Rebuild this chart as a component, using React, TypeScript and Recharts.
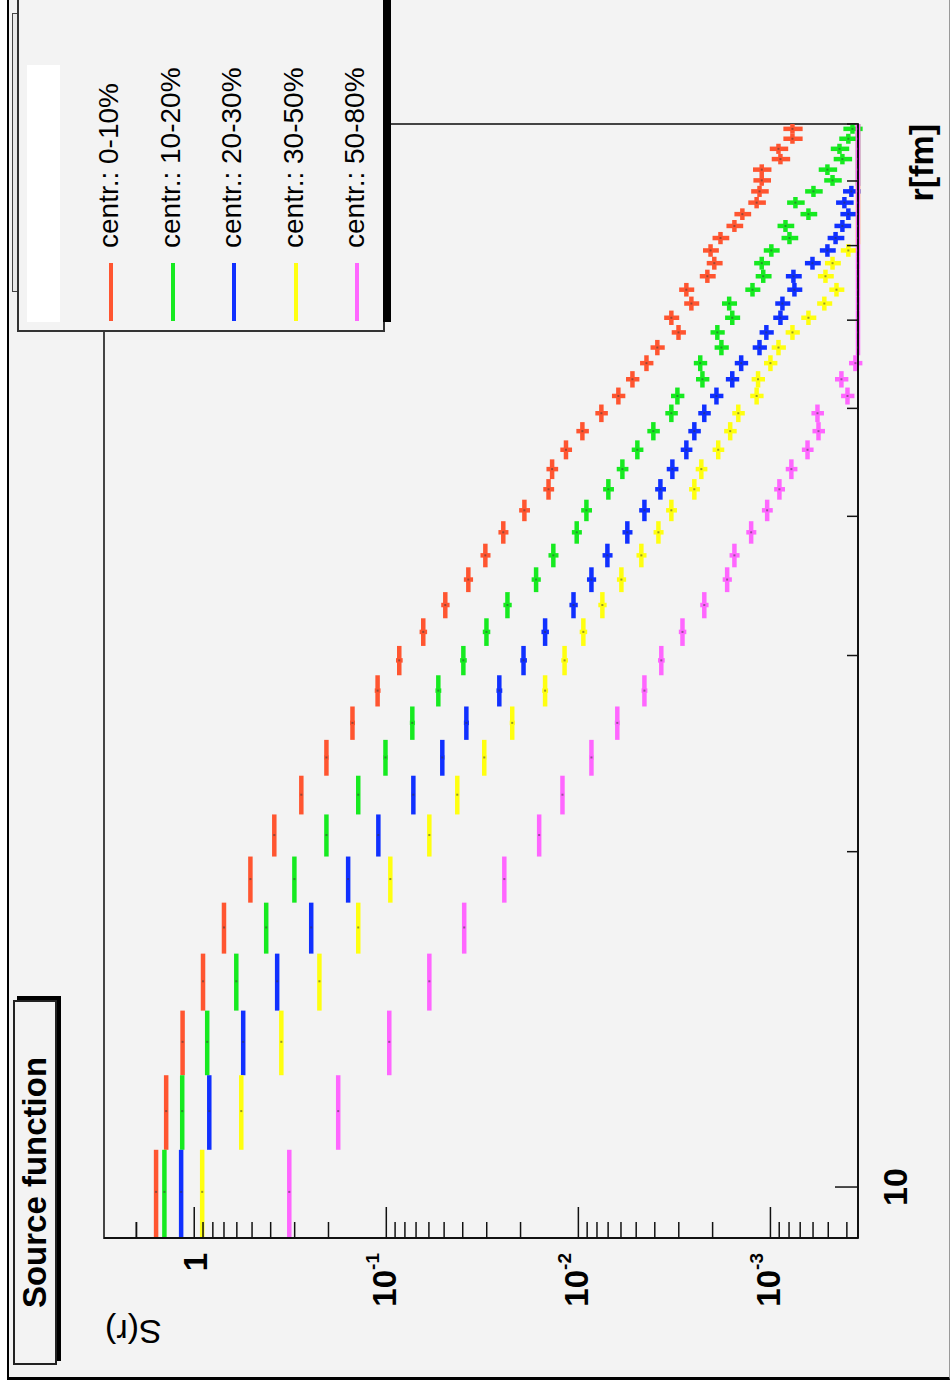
import React from "react";
import { ScatterChart, Scatter, XAxis, YAxis, ErrorBar, ReferenceArea, Legend } from "recharts";

// canvas is laid out landscape and turned a quarter turn for display
const W = 1391;
const H = 951;
const FONT = '"Liberation Sans", Arial, Helvetica, sans-serif';

// frame geometry (landscape coordinates)
const AXIS_X = 153;
const AXIS_Y = 858;

const R_MIN = 9;
const R_MAX = 90;
const S_MIN = 0.00035;
const S_MAX = 2.95;

// r bin centres [fm], bins are 1.8 fm wide
const rCenters = [
  9.9, 11.7, 13.5, 15.3, 17.1, 18.9, 20.7, 22.5, 24.3, 26.1, 27.9, 29.7, 31.5, 33.3, 35.1,
  36.9, 38.7, 40.5, 42.3, 44.1, 45.9, 47.7, 49.5, 51.3, 53.1, 54.9, 56.7, 58.5, 60.3, 62.1,
  63.9, 65.7, 67.5, 69.3, 71.1, 72.9, 74.7, 76.5, 78.3, 80.1, 81.9, 83.7, 85.5, 87.3, 89.1,
];
const rHalfBin = 0.9;

// relative statistical error of S(r) per bin
const relErr = [
  0.01, 0.01, 0.01, 0.01, 0.01, 0.015, 0.015, 0.02, 0.025, 0.03, 0.035, 0.04, 0.045, 0.05, 0.055,
  0.06, 0.06, 0.065, 0.065, 0.07, 0.07, 0.075, 0.075, 0.08, 0.08, 0.08, 0.085, 0.085, 0.09, 0.09,
  0.09, 0.095, 0.095, 0.095, 0.1, 0.1, 0.1, 0.105, 0.105, 0.105, 0.11, 0.11, 0.11, 0.115, 0.115,
];

// S(r) per centrality class; 0.00035 = below the plotted range
const cent0010 = [
  1.58, 1.4, 1.15, 0.9, 0.7, 0.51, 0.383, 0.277, 0.205, 0.15, 0.111, 0.0856, 0.0642, 0.0493, 0.0374,
  0.0305, 0.0246, 0.0191, 0.0143, 0.0137, 0.0116, 0.00953, 0.00759, 0.00619, 0.00523, 0.00442, 0.00388, 0.00301, 0.00328, 0.00258,
  0.00274, 0.00213, 0.00196, 0.00205, 0.00182, 0.00154, 0.0014, 0.00118, 0.00114, 0.00111, 0.00111, 0.000887, 0.000908, 0.000768, 0.000768,
];
const cent1020 = [
  1.43, 1.155, 0.856, 0.604, 0.422, 0.301, 0.205, 0.14, 0.101, 0.0732, 0.0536, 0.0397, 0.0301, 0.0234, 0.0166,
  0.0135, 0.0102, 0.00908, 0.00698, 0.0059, 0.00493, 0.00407, 0.00328, 0.00305, 0.00226, 0.00232, 0.0018, 0.00189, 0.00158, 0.00164,
  0.00124, 0.00109, 0.00111, 0.000989, 0.000796, 0.000835, 0.000634, 0.000741, 0.000597, 0.000475, 0.000505, 0.000422, 0.000437, 0.000393, 0.000374,
];
const cent2030 = [
  1.17, 0.835, 0.556, 0.37, 0.246, 0.158, 0.11, 0.0723, 0.0511, 0.0383, 0.0258, 0.0193, 0.0149, 0.0106, 0.00855,
  0.00706, 0.00556, 0.00453, 0.00374, 0.00324, 0.00274, 0.00249, 0.00221, 0.00191, 0.00158, 0.00142, 0.00114, 0.00105, 0.000887, 0.000866,
  0.00075, 0.000759, 0.000604, 0.000505, 0.000458, 0.000422, 0.000393, 0.000412, 0.000379, 0.00035, 0.00035, 0.00035, 0.00035, 0.00035, 0.00035,
];
const cent3050 = [
  0.909, 0.569, 0.352, 0.223, 0.14, 0.0953, 0.0597, 0.0427, 0.0309, 0.0221, 0.0149, 0.0118, 0.00942, 0.0075, 0.00597,
  0.0047, 0.00383, 0.00328, 0.00249, 0.00229, 0.00187, 0.00162, 0.00147, 0.00118, 0.00116, 0.001, 0.000908, 0.000768, 0.000634, 0.000524,
  0.000453, 0.000517, 0.000475, 0.000393, 0.00035, 0.00035, 0.00035, 0.00035, 0.00035, 0.00035, 0.00035, 0.00035, 0.00035, 0.00035, 0.00035,
];
const cent5080 = [
  0.32, 0.178, 0.0965, 0.0597, 0.0393, 0.0243, 0.016, 0.0121, 0.00855, 0.00627, 0.00453, 0.0037, 0.00287, 0.00221, 0.00168,
  0.00154, 0.00126, 0.00104, 0.000898, 0.000778, 0.000641, 0.000562, 0.000569, 0.000397, 0.000427, 0.000361, 0.00035, 0.00035, 0.00035, 0.00035,
  0.00035, 0.00035, 0.00035, 0.00035, 0.00035, 0.00035, 0.00035, 0.00035, 0.00035, 0.00035, 0.00035, 0.00035, 0.00035, 0.00035, 0.00035,
];

const seriesNames = ["centr.: 0-10%", "centr.: 10-20%", "centr.: 20-30%", "centr.: 30-50%", "centr.: 50-80%"];
const seriesColors = ["#ff5530", "#16ea20", "#1030ff", "#ffff10", "#ff66ff"];
const seriesValues = [cent0010, cent1020, cent2030, cent3050, cent5080];

const rTicks = [10, 20, 30, 40, 50, 60, 70, 80, 90];

// decades get long ticks, 2..9 get short ones
const sTicks: number[] = [];
for (let e = -4; e <= 0; e++) {
  for (let m = 1; m <= 9; m++) {
    const v = parseFloat((m * Math.pow(10, e)).toPrecision(3));
    if (v >= S_MIN && v <= S_MAX) sTicks.push(v);
  }
}
sTicks.push(2);

function rows(values: number[]) {
  return rCenters.map((r, i) => ({
    r,
    s: values[i],
    rErr: rHalfBin,
    sErr: values[i] > S_MIN ? values[i] * relErr[i] : 0,
  }));
}

function STick(props: any) {
  const { y, payload } = props;
  const v = payload.value as number;
  const exp = Math.floor(Math.log10(v) + 1e-9);
  const mant = v / Math.pow(10, exp);
  const major = Math.abs(mant - 1) < 1e-6;
  return (
    <g>
      <line x1={AXIS_X} x2={AXIS_X + (major ? 31 : 16)} y1={y} y2={y} stroke="#111" strokeWidth={1.5} />
      {major && (
        <text
          x={AXIS_X - 15}
          y={y + (exp === 0 ? 13 : 10)}
          textAnchor="end"
          fontFamily={FONT}
          fontWeight="bold"
          fontSize={33}
          fill="#000"
        >
          {exp === 0 ? (
            "1"
          ) : (
            <>
              10
              <tspan dy={-17} fontSize={19}>
                {exp}
              </tspan>
            </>
          )}
        </text>
      )}
    </g>
  );
}

function RTick(props: any) {
  const { x, payload } = props;
  const major = payload.value === 10;
  return (
    <g>
      <line x1={x} x2={x} y1={AXIS_Y} y2={AXIS_Y - (major ? 23 : 11)} stroke="#111" strokeWidth={1.5} />
      {major && (
        <text x={x} y={AXIS_Y + 49} textAnchor="middle" fontFamily={FONT} fontWeight="bold" fontSize={34} fill="#000">
          10
        </text>
      )}
    </g>
  );
}

function LegendBox() {
  return (
    <div style={{ position: "relative", width: 345, height: 376, fontFamily: FONT }}>
      <div
        style={{
          position: "absolute",
          left: 0,
          top: 0,
          width: 345,
          height: 368,
          background: "#f3f3f3",
          border: "2px solid #333",
          boxSizing: "border-box",
        }}
      >
        <div style={{ position: "absolute", left: 8, top: 8, width: 257, height: 33, background: "#fff" }} />
        {seriesNames.map((name, i) => (
          <div key={name}>
            <div
              style={{
                position: "absolute",
                left: 9,
                top: 90 + i * 61.5,
                width: 58,
                height: 4,
                background: seriesColors[i],
              }}
            />
            <div
              style={{
                position: "absolute",
                left: 82,
                top: 73 + i * 61.5,
                fontSize: 28,
                lineHeight: "34px",
                color: "#000",
                whiteSpace: "nowrap",
              }}
            >
              {name}
            </div>
          </div>
        ))}
      </div>
      <div style={{ position: "absolute", left: 10, top: 366, width: 335, height: 8, background: "#000" }} />
    </div>
  );
}

export default function App() {
  return (
    <div style={{ position: "absolute", left: 0, top: 0, width: H, height: W, overflow: "hidden", background: "#fff" }}>
      <div
        style={{
          position: "absolute",
          left: 0,
          top: 0,
          width: W,
          height: H,
          overflow: "hidden",
          transformOrigin: "0 0",
          transform: `translateY(${W}px) rotate(-90deg)`,
          fontFamily: FONT,
        }}
      >
        <div
          style={{
            position: "absolute",
            left: 11,
            top: 7,
            width: W,
            height: 943,
            background: "#f3f3f3",
            borderTop: "2px solid #000",
            borderLeft: "3px solid #000",
            borderBottom: "1px solid #999",
            boxSizing: "border-box",
          }}
        />
        <div
          style={{
            position: "absolute",
            left: 1099,
            top: 12,
            width: 279,
            height: 7,
            border: "1px solid #444",
            background: "#e9e9e9",
            boxSizing: "border-box",
          }}
        />
        <div style={{ position: "absolute", left: 0, top: 0 }}>
          <ScatterChart width={W} height={H} margin={{ top: 104, right: 124, bottom: 53, left: 93 }}>
            <XAxis
              type="number"
              dataKey="r"
              scale="log"
              domain={[R_MIN, R_MAX]}
              allowDataOverflow
              ticks={rTicks}
              interval={0}
              height={40}
              tickLine={false}
              axisLine={{ stroke: "#111", strokeWidth: 2 }}
              tick={<RTick />}
              label={{
                content: () => (
                  <text
                    x={AXIS_X + 1114}
                    y={933}
                    textAnchor="end"
                    fontFamily={FONT}
                    fontWeight="bold"
                    fontSize={34}
                    fill="#000"
                  >
                    r[fm]
                  </text>
                ),
              }}
            />
            <YAxis
              type="number"
              dataKey="s"
              scale="log"
              domain={[S_MIN, S_MAX]}
              allowDataOverflow
              ticks={sTicks}
              interval={0}
              width={60}
              tickLine={false}
              axisLine={{ stroke: "#111", strokeWidth: 2 }}
              tick={<STick />}
              label={{
                content: () => (
                  <text
                    x={71}
                    y={105}
                    transform="rotate(-90 71 105)"
                    textAnchor="end"
                    fontFamily={FONT}
                    fontSize={34}
                    fill="#000"
                  >
                    S(r)
                  </text>
                ),
              }}
            />
            <ReferenceArea
              x1={R_MIN}
              x2={R_MAX}
              y1={S_MIN}
              y2={S_MAX}
              fill="none"
              stroke="#444"
              strokeWidth={2}
              ifOverflow="visible"
            />
            {seriesValues.map((vals, i) => (
              <Scatter
                key={seriesNames[i]}
                name={seriesNames[i]}
                data={rows(vals)}
                fill={seriesColors[i]}
                isAnimationActive={false}
                shape={(p: any) => (
                  <rect x={p.cx - 1} y={p.cy - 1} width={2} height={2} fill="#333" fillOpacity={0.5} />
                )}
              >
                <ErrorBar dataKey="rErr" direction="x" width={0} stroke={seriesColors[i]} strokeWidth={4.5} isAnimationActive={false} />
                <ErrorBar dataKey="sErr" direction="y" width={0} stroke={seriesColors[i]} strokeWidth={4.5} isAnimationActive={false} />
              </Scatter>
            ))}
            <Legend
              layout="horizontal"
              verticalAlign="middle"
              align="center"
              content={() => <LegendBox />}
              wrapperStyle={{ left: 1059, top: 17, width: 345, height: 376 }}
            />
          </ScatterChart>
        </div>
        <div
          style={{
            position: "absolute",
            left: 26,
            top: 13,
            width: 365,
            height: 44,
            border: "2px solid #222",
            background: "#f3f3f3",
            boxSizing: "border-box",
            boxShadow: "4px 4px 0 #000",
            fontWeight: "bold",
            fontSize: 33,
            lineHeight: "40px",
            textAlign: "center",
            color: "#000",
          }}
        >
          Source function
        </div>
      </div>
    </div>
  );
}
